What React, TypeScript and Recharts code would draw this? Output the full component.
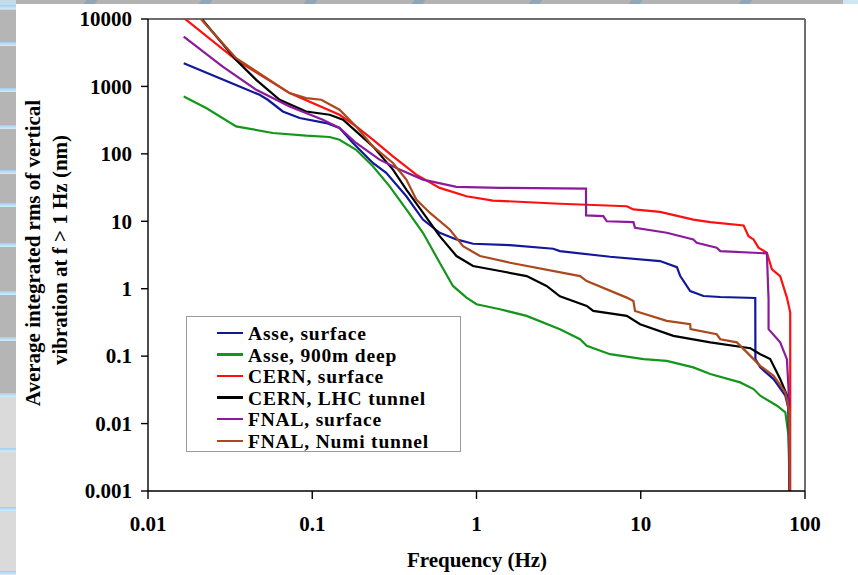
import React from 'react';
import { LineChart, Line, XAxis, YAxis, Legend, ReferenceLine } from 'recharts';

const FONT = "'Liberation Serif', 'Times New Roman', Times, serif";

// Frequency ticks (Hz) and RMS ticks (nm)
const freqTicks = [0.01, 0.1, 1, 10, 100];
const rmsTicks = [0.001, 0.01, 0.1, 1, 10, 100, 1000, 10000];

// Asse, surface
const asseSurfaceFreq = [0.0165, 0.0361, 0.0478, 0.0536, 0.0662, 0.0838, 0.1216, 0.1466, 0.177, 0.234, 0.282, 0.374, 0.472, 0.597, 0.755, 0.953, 1.6, 2.93, 3.22, 6.5, 13.1, 16.6, 17.4, 20.0, 24.1, 30.5, 49.8, 49.9, 53.4, 64.4, 75.9, 79.4, 80.5];
const asseSurfaceRms = [2213, 998, 751, 634, 425, 340, 286, 242, 145, 73.3, 52.2, 23.5, 10.6, 6.76, 5.38, 4.64, 4.43, 3.92, 3.61, 2.98, 2.57, 2.09, 1.54, 0.925, 0.78, 0.753, 0.728, 0.0903, 0.0681, 0.0457, 0.0259, 0.0164, 0.001];

// Asse, 900m deep
const asseDeepFreq = [0.0165, 0.0226, 0.0344, 0.0575, 0.0918, 0.1276, 0.1466, 0.185, 0.234, 0.296, 0.374, 0.472, 0.597, 0.719, 0.869, 1.0, 1.39, 2.02, 3.22, 4.27, 4.69, 6.5, 10.4, 14.4, 20.9, 26.5, 40.3, 48.6, 53.4, 67.5, 75.9, 79.4, 80.5];
const asseDeepRms = [709, 478, 255, 204, 186, 178, 162, 115, 65.3, 33.0, 15.0, 6.76, 2.43, 1.10, 0.738, 0.588, 0.496, 0.395, 0.251, 0.178, 0.142, 0.107, 0.0903, 0.0851, 0.0681, 0.0542, 0.0408, 0.0325, 0.0259, 0.0184, 0.0147, 0.00662, 0.001];

// CERN, surface
const cernSurfaceFreq = [0.0165, 0.0344, 0.0728, 0.1466, 0.185, 0.234, 0.31, 0.43, 0.597, 0.869, 1.26, 3.22, 8.22, 9.02, 13.1, 20.9, 26.5, 42.3, 45.3, 48.6, 52.1, 58.6, 62.9, 70.6, 77.6, 81.3, 81.3, 81.3];
const cernSurfaceRms = [10400, 2475, 796, 380, 255, 162, 91.8, 49.2, 31.3, 23.5, 20.3, 18.2, 16.7, 15.0, 13.8, 10.6, 9.7, 8.66, 6.02, 5.38, 4.06, 3.42, 1.94, 1.54, 0.738, 0.443, 0.0512, 0.001];

// CERN, LHC tunnel
const cernTunnelFreq = [0.0165, 0.0215, 0.0344, 0.0456, 0.0633, 0.0918, 0.1276, 0.154, 0.185, 0.234, 0.31, 0.374, 0.472, 0.597, 0.755, 0.953, 1.39, 2.02, 2.67, 3.22, 4.69, 5.14, 8.22, 9.91, 15.8, 26.5, 46.5, 53.4, 61.4, 70.6, 79.4, 80.5];
const cernTunnelRms = [21100, 9670, 2475, 1252, 634, 425, 380, 321, 215, 129, 58.4, 29.5, 13.4, 6.02, 3.05, 2.17, 1.83, 1.54, 1.10, 0.773, 0.555, 0.468, 0.395, 0.297, 0.2, 0.16, 0.131, 0.107, 0.0903, 0.0457, 0.0231, 0.001];

// FNAL, surface
const fnalSurfaceFreq = [0.0165, 0.0285, 0.0456, 0.0728, 0.116, 0.1466, 0.185, 0.257, 0.34, 0.472, 0.755, 1.39, 4.64, 4.65, 5.92, 6.21, 9.02, 9.23, 14.4, 20.9, 21.9, 29.0, 30.5, 58.6, 60.0, 60.0, 70.6, 77.6, 79.4, 80.5];
const fnalSurfaceRms = [5470, 1970, 891, 505, 321, 242, 145, 82.0, 58.4, 41.5, 32.4, 31.3, 30.6, 12.2, 11.9, 10.0, 9.7, 8.02, 6.76, 5.38, 4.81, 4.06, 3.61, 3.34, 0.697, 0.251, 0.16, 0.0903, 0.0325, 0.001];

// FNAL, Numi tunnel
const fnalNumiFreq = [0.0165, 0.021, 0.0344, 0.0728, 0.0918, 0.1135, 0.1466, 0.185, 0.234, 0.31, 0.374, 0.43, 0.519, 0.687, 0.828, 1.05, 1.6, 4.27, 4.69, 8.22, 9.02, 9.23, 14.4, 20.0, 20.1, 29.0, 30.5, 38.5, 46.5, 53.4, 64.4, 75.9, 80.5, 80.8];
const fnalNumiRms = [22600, 10000, 2620, 796, 671, 634, 451, 255, 129, 73.3, 41.5, 21.0, 13.4, 7.56, 4.28, 3.05, 2.43, 1.54, 1.30, 0.738, 0.658, 0.468, 0.333, 0.297, 0.251, 0.211, 0.178, 0.16, 0.101, 0.0719, 0.0512, 0.029, 0.0147, 0.001];

const zip = (f: number[], r: number[]) => f.map((freq, i) => ({ freq, rms: r[i] }));

const SERIES = [
  { name: 'Asse, surface', color: '#13189a', data: zip(asseSurfaceFreq, asseSurfaceRms) },
  { name: 'Asse, 900m deep', color: '#14961a', data: zip(asseDeepFreq, asseDeepRms) },
  { name: 'CERN, surface', color: '#ff1010', data: zip(cernSurfaceFreq, cernSurfaceRms) },
  { name: 'CERN, LHC tunnel', color: '#000000', data: zip(cernTunnelFreq, cernTunnelRms) },
  { name: 'FNAL, surface', color: '#8c1a9c', data: zip(fnalSurfaceFreq, fnalSurfaceRms) },
  { name: 'FNAL, Numi tunnel', color: '#ad471c', data: zip(fnalNumiFreq, fnalNumiRms) },
];

const fmt = (v: number) => String(v);

const XTick = (props: any) => {
  const { x, y, payload } = props;
  return (
    <text x={x} y={y} dy={32} textAnchor="middle" fontFamily={FONT} fontWeight="bold" fontSize={21} fill="#000">
      {fmt(payload.value)}
    </text>
  );
};

const YTick = (props: any) => {
  const { x, y, payload } = props;
  return (
    <text x={x} y={y} dy="0.35em" textAnchor="end" fontFamily={FONT} fontWeight="bold" fontSize={21} fill="#000">
      {fmt(payload.value)}
    </text>
  );
};

const YTitle = () => (
  <g fontFamily={FONT} fontWeight="bold" fontSize={21} fill="#000">
    <text x={39.5} y={253} transform="rotate(-90, 39.5, 253)" textAnchor="middle">
      Average integrated rms of vertical
    </text>
    <text x={66.5} y={250} transform="rotate(-90, 66.5, 250)" textAnchor="middle">
      vibration at f &gt; 1 Hz (nm)
    </text>
  </g>
);

const XTitle = () => (
  <text x={477} y={566.5} textAnchor="middle" fontFamily={FONT} fontWeight="bold" fontSize={21} fill="#000">
    Frequency (Hz)
  </text>
);

const renderLegend = () => (
  <div
    style={{
      width: 275,
      height: 136,
      boxSizing: 'border-box',
      border: '1px solid #9a9a9a',
      background: '#fff',
      paddingTop: 5,
      fontFamily: FONT,
      fontWeight: 'bold',
      fontSize: 19.5,
      letterSpacing: 0.8,
      color: '#000',
    }}
  >
    {SERIES.map((s) => (
      <div key={s.name} style={{ display: 'flex', alignItems: 'center', height: 21.6, lineHeight: '21.6px' }}>
        <span style={{ display: 'inline-block', width: 26, height: 2.5, background: s.color, marginLeft: 30, marginRight: 5 }} />
        <span style={{ whiteSpace: 'nowrap', position: 'relative', top: 1 }}>{s.name}</span>
      </div>
    ))}
  </div>
);

const stripeXs = [85, 200, 305, 413, 530, 630, 740];
const bandYs = [5, 42, 88, 125, 170, 203, 243, 291, 337, 393, 448, 507, 571];

export default function App() {
  return (
    <div style={{ position: 'absolute', left: 0, top: 0, width: 858, height: 575, background: '#fff', overflow: 'hidden' }}>
      <div style={{ position: 'absolute', left: 16, top: 0, width: 842, height: 4, background: '#b3b3b3' }} />
      {stripeXs.map((sx) => (
        <div key={sx} style={{ position: 'absolute', left: sx, top: 0, width: 11, height: 4, background: '#8fa7b7', transform: 'skewX(-35deg)' }} />
      ))}
      <div style={{ position: 'absolute', left: 843, top: 0, width: 15, height: 4, background: '#cfe6f3' }} />
      <div style={{ position: 'absolute', left: 0, top: 0, width: 16, height: 393, background: '#b5b5b5' }} />
      <div style={{ position: 'absolute', left: 0, top: 393, width: 16, height: 182, background: '#dadada' }} />
      <div style={{ position: 'absolute', left: 0, top: 0, width: 16, height: 10, background: '#c4dbe9' }} />
      {bandYs.map((by) => (
        <div key={by} style={{ position: 'absolute', left: 0, top: by, width: 16, height: 4, background: 'linear-gradient(#9fd0ee, #d6ebf7)' }} />
      ))}
      <div style={{ position: 'absolute', left: 0, top: 0 }}>
        <LineChart width={858} height={575} margin={{ top: 19, right: 53, bottom: 0, left: 0 }}>
          <XAxis
            dataKey="freq"
            type="number"
            scale="log"
            domain={[0.01, 100]}
            ticks={freqTicks}
            allowDataOverflow
            height={84}
            tickSize={8}
            tickMargin={0}
            tick={<XTick />}
            axisLine={{ stroke: '#000', strokeWidth: 1.4 }}
            tickLine={{ stroke: '#000', strokeWidth: 1.4 }}
            label={<XTitle />}
          />
          <YAxis
            dataKey="rms"
            type="number"
            scale="log"
            domain={[0.001, 10000]}
            ticks={rmsTicks}
            allowDataOverflow
            width={148}
            tickSize={7}
            tickMargin={9}
            tick={<YTick />}
            axisLine={{ stroke: '#000', strokeWidth: 1.4 }}
            tickLine={{ stroke: '#000', strokeWidth: 1.4 }}
            label={<YTitle />}
          />
          <ReferenceLine y={10000} stroke="#6e6e6e" strokeWidth={2} ifOverflow="visible" />
          <ReferenceLine x={100} stroke="#6e6e6e" strokeWidth={2} ifOverflow="visible" />
          {SERIES.map((s) => (
            <Line
              key={s.name}
              name={s.name}
              data={s.data}
              dataKey="rms"
              type="linear"
              stroke={s.color}
              strokeWidth={2.2}
              dot={false}
              activeDot={false}
              isAnimationActive={false}
            />
          ))}
          <Legend
            layout="vertical"
            align="center"
            verticalAlign="middle"
            content={renderLegend}
            wrapperStyle={{ left: 186, top: 316, width: 275, height: 136 }}
          />
        </LineChart>
      </div>
    </div>
  );
}
